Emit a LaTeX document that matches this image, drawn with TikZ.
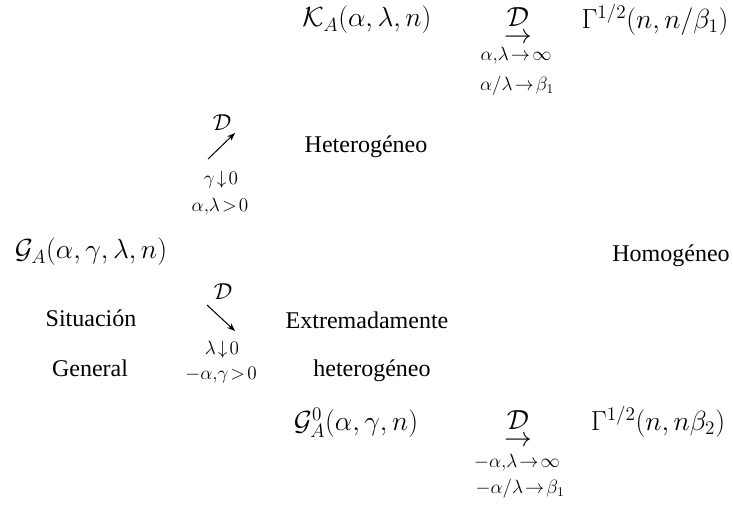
\documentclass[tikz,border=0pt]{standalone}
\usepackage{amsmath, amssymb}
\usepackage{fontspec}
\setmainfont{Liberation Serif}
\usetikzlibrary{arrows.meta}

\tikzset{
  txt/.style={font=\fontsize{18}{22}\selectfont},
  bigmath/.style={font=\fontsize{20.5}{24}\selectfont},
  cond/.style={font=\fontsize{14}{16}\selectfont},
  smallD/.style={font=\fontsize{16}{18}\selectfont},
  diagarr/.style={-{Stealth[length=6pt, width=4.5pt]}, line width=0.75pt}
}

\begin{document}
\begin{tikzpicture}[x=0.75pt, y=-0.75pt, every node/.style={inner sep=0pt}]
  \useasboundingbox (0,0) rectangle (733,514);

  % Top row: K_A limit
  \node[bigmath] (KA) at (367, 20) {$\mathcal{K}_A(\alpha,\lambda,n)$};
  \node[bigmath] (Dtop) at (518, 27) {$\underset{\textstyle\rightarrow}{\mathcal{D}}$};
  \node[cond] (condTopA) at (516, 56) {$\alpha{,}\lambda\!\rightarrow\!\infty$};
  \node[cond] (condTopB) at (517, 86) {$\alpha/\lambda\!\rightarrow\!\beta_1$};
  \node[bigmath] (GamTop) at (655, 20) {$\Gamma^{1/2}(n,n/\beta_1)$};

  % Upper branch
  \node[smallD] (Dup) at (222, 123) {$\mathcal{D}$};
  \coordinate (upS) at (208, 159);
  \coordinate (upE) at (235, 133);
  \draw[diagarr] (upS) -- (upE);
  \node[cond] (condUpA) at (221, 180) {$\gamma\!\downarrow\!0$};
  \node[cond] (condUpB) at (220, 207) {$\alpha{,}\lambda\!>\!0$};
  \node[txt] (Hetero) at (366, 147) {Heterogéneo};

  % Middle row
  \node[bigmath] (GA) at (91, 252) {$\mathcal{G}_A(\alpha,\gamma,\lambda,n)$};
  \node[txt] (Homo) at (671, 256) {Homogéneo};

  % Lower branch
  \node[smallD] (Dlow) at (223, 292) {$\mathcal{D}$};
  \coordinate (lowS) at (207, 305);
  \coordinate (lowE) at (235, 331);
  \draw[diagarr] (lowS) -- (lowE);
  \node[cond] (condLowA) at (222, 350) {$\lambda\!\downarrow\!0$};
  \node[cond] (condLowB) at (221, 375) {$-\alpha{,}\gamma\!>\!0$};
  \node[txt] (Situacion) at (91, 318) {Situación};
  \node[txt] (General) at (90, 368) {General};
  \node[txt] (Extrem) at (367, 320) {Extremadamente};
  \node[txt] (heteroB) at (372, 371) {heterogéneo};

  % Bottom row: G_A^0 limit
  \node[bigmath] (GAzero) at (356, 423) {$\mathcal{G}_A^0(\alpha,\gamma,n)$};
  \node[bigmath] (Dbot) at (518, 430) {$\underset{\textstyle\rightarrow}{\mathcal{D}}$};
  \node[cond] (condBotA) at (517, 463) {$-\alpha{,}\lambda\!\rightarrow\!\infty$};
  \node[cond] (condBotB) at (520, 489) {$-\alpha/\lambda\!\rightarrow\!\beta_1$};
  \node[bigmath] (GamBot) at (658, 422) {$\Gamma^{1/2}(n,n\beta_2)$};
\end{tikzpicture}
\end{document}
